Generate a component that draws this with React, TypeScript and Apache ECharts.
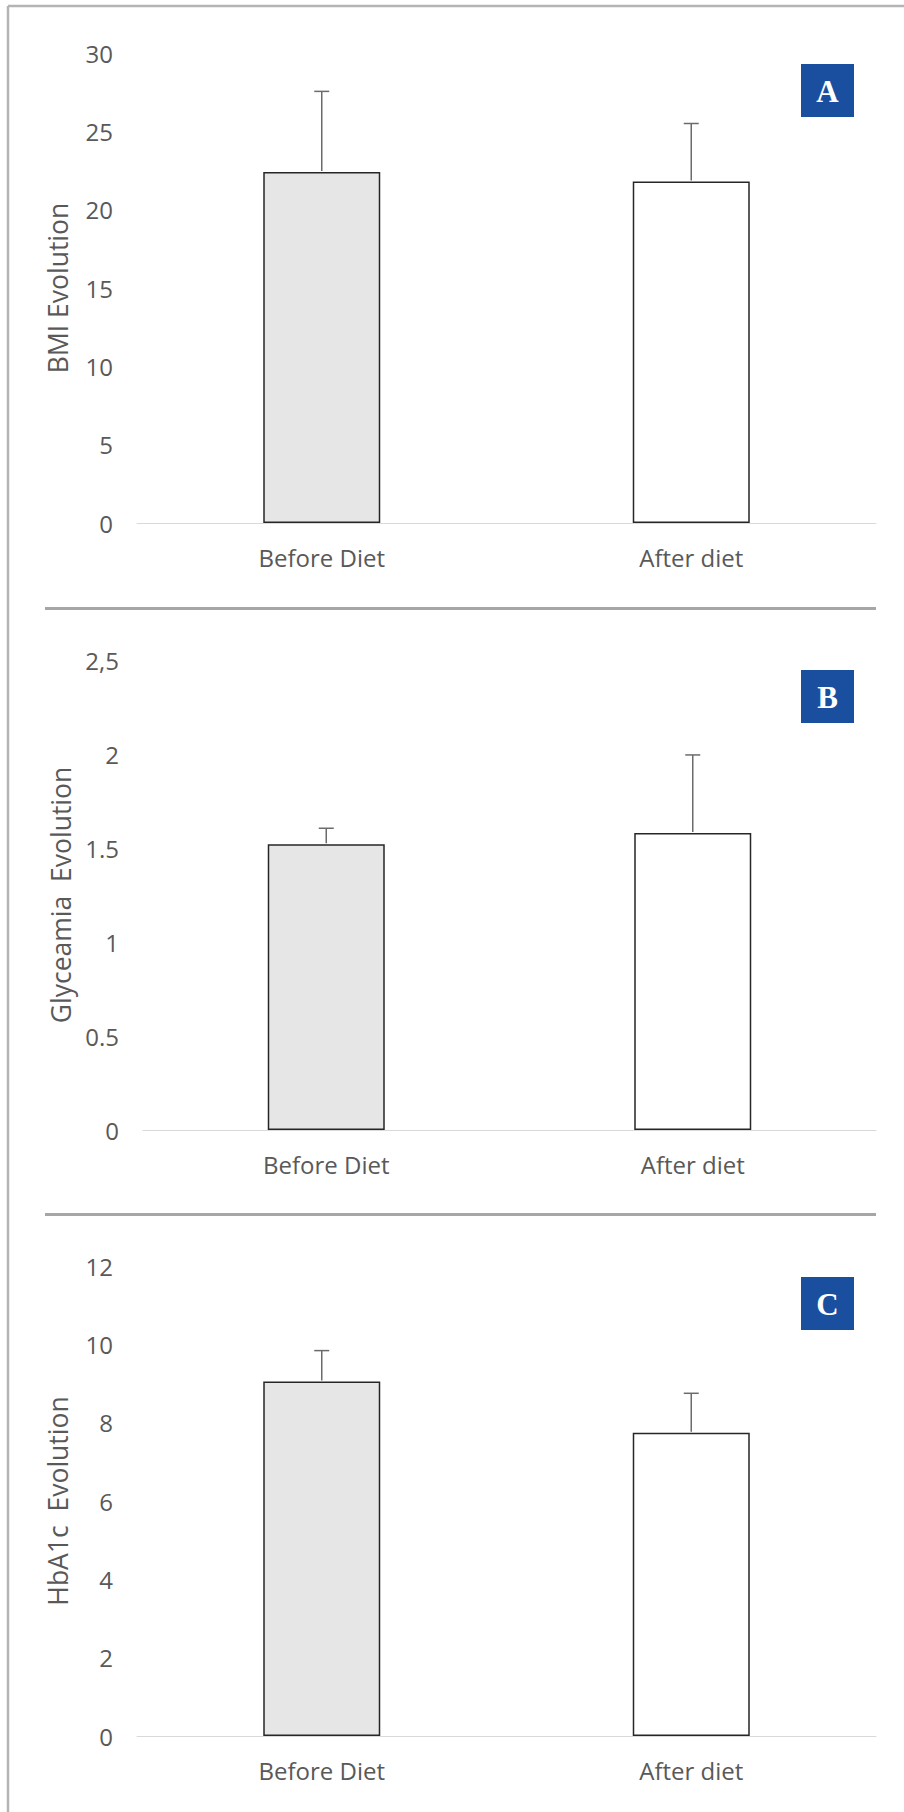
import React, { useEffect, useRef } from "react";
import * as echarts from "echarts";

const categories = ["Before Diet", "After diet"];

const bmiMeans = [22.4, 21.8];
const bmiErr = [5.15, 3.7];
const bmiTicks = ["0", "5", "10", "15", "20", "25", "30"];

const glyMeans = [1.52, 1.58];
const glyErr = [0.085, 0.415];
const glyTicks = ["0", "0.5", "1", "1.5", "2", "2,5"];

const hbaMeans = [9.05, 7.74];
const hbaErr = [0.79, 1.01];
const hbaTicks = ["0", "2", "4", "6", "8", "10", "12"];

const panelNames = ["BMI Evolution", "Glyceamia  Evolution", "HbA1c  Evolution"];
const panelLetters = ["A", "B", "C"];

const barFills = ["#e7e6e6", "#ffffff"];

const FONT = "'Open Sans', 'Noto Sans', sans-serif";
const TEXT = "#595959";

export default function App() {
  const ref = useRef<HTMLDivElement | null>(null);

  useEffect(() => {
    document.body.style.margin = "0";
    if (!ref.current) return;
    const chart = echarts.init(ref.current, null, { renderer: "svg" });

    const panels = [
      { means: bmiMeans, err: bmiErr, ticks: bmiTicks, max: 30, interval: 5, top: 53, left: 137 },
      { means: glyMeans, err: glyErr, ticks: glyTicks, max: 2.5, interval: 0.5, top: 660, left: 143 },
      { means: hbaMeans, err: hbaErr, ticks: hbaTicks, max: 12, interval: 2, top: 1266, left: 137 },
    ];

    const grids = panels.map((p) => ({ left: p.left, right: 28, top: p.top, height: 470 }));

    const xAxes = panels.map((p, i) => ({
      type: "category",
      gridIndex: i,
      data: categories,
      axisTick: { show: false },
      axisLine: { show: true, lineStyle: { color: "#d9d9d9", width: 1 } },
      axisLabel: { color: TEXT, fontFamily: FONT, fontSize: 24, margin: 22 },
    }));

    const yAxes = panels.map((p, i) => ({
      type: "value",
      gridIndex: i,
      min: 0,
      max: p.max,
      interval: p.interval,
      name: panelNames[i],
      nameLocation: "middle",
      nameGap: 66,
      nameRotate: 90,
      nameTextStyle: { color: TEXT, fontFamily: FONT, fontSize: 26.5 },
      axisLine: { show: false },
      axisTick: { show: false },
      splitLine: { show: false },
      axisLabel: {
        color: TEXT,
        fontFamily: FONT,
        fontSize: 24,
        margin: 24,
        formatter: (v: number) => {
          const idx = Math.round(v / p.interval);
          return p.ticks[idx] ?? String(v);
        },
      },
    }));

    const series: any[] = [];
    panels.forEach((p, i) => {
      series.push({
        type: "bar",
        xAxisIndex: i,
        yAxisIndex: i,
        barWidth: 117,
        data: p.means.map((m, j) => ({
          value: m,
          itemStyle: { color: barFills[j], borderColor: "#262626", borderWidth: 1.5 },
        })),
        z: 2,
      });
      series.push({
        type: "custom",
        xAxisIndex: i,
        yAxisIndex: i,
        z: 3,
        data: p.means.map((m, j) => [j, m, p.err[j]]),
        renderItem: (params: any, api: any) => {
          const x = api.value(0);
          const m = api.value(1);
          const e = api.value(2);
          const base = api.coord([x, m]);
          const top = api.coord([x, m + e]);
          const style = { stroke: "#6b6b6b", lineWidth: 1.5 };
          return {
            type: "group",
            children: [
              { type: "line", shape: { x1: top[0], y1: top[1], x2: base[0], y2: base[1] - 1 }, style },
              { type: "line", shape: { x1: top[0] - 7.5, y1: top[1], x2: top[0] + 7.5, y2: top[1] }, style },
            ],
          };
        },
      });
    });

    const boxTops = [64, 670, 1277];
    const graphic: any[] = [
      { type: "line", shape: { x1: 8, y1: 6, x2: 904, y2: 6 }, style: { stroke: "#b4b4b4", lineWidth: 2.5 } },
      { type: "line", shape: { x1: 8, y1: 6, x2: 8, y2: 1812 }, style: { stroke: "#b4b4b4", lineWidth: 2.5 } },
      { type: "line", shape: { x1: 45, y1: 608.5, x2: 876, y2: 608.5 }, style: { stroke: "#a6a6a6", lineWidth: 3 } },
      { type: "line", shape: { x1: 45, y1: 1214.5, x2: 876, y2: 1214.5 }, style: { stroke: "#a6a6a6", lineWidth: 3 } },
    ];
    boxTops.forEach((t, i) => {
      graphic.push({ type: "rect", shape: { x: 801, y: t, width: 53, height: 53 }, style: { fill: "#1a4fa0" } });
      graphic.push({
        type: "text",
        x: 827.5,
        y: t + 27,
        style: {
          text: panelLetters[i],
          fill: "#ffffff",
          font: "bold 31px 'Liberation Serif', 'DejaVu Serif', serif",
          align: "center",
          verticalAlign: "middle",
        },
      });
    });

    chart.setOption({
      animation: false,
      backgroundColor: "#ffffff",
      grid: grids,
      xAxis: xAxes,
      yAxis: yAxes,
      series,
      graphic,
    });

    return () => chart.dispose();
  }, []);

  return <div ref={ref} style={{ width: 904, height: 1812 }} />;
}
